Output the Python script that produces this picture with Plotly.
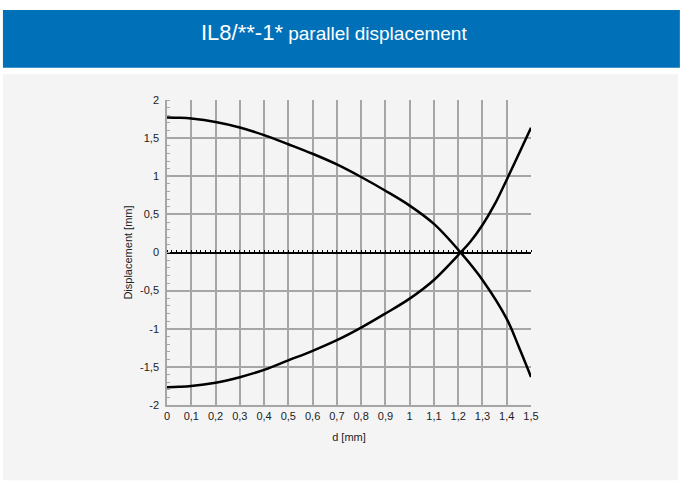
import plotly.graph_objects as go

# ---- data ----
d_upper = [0, 0.05, 0.1, 0.2, 0.3, 0.4, 0.5, 0.6, 0.7, 0.8, 0.9, 1.0, 1.1, 1.21, 1.3, 1.4, 1.45, 1.5]
disp_upper = [1.772, 1.767, 1.756, 1.712, 1.64, 1.54, 1.42, 1.295, 1.155, 0.99, 0.81, 0.615, 0.375, 0.0, -0.36, -0.87, -1.24, -1.632]
d_lower = [0, 0.05, 0.1, 0.2, 0.3, 0.4, 0.5, 0.6, 0.7, 0.8, 0.9, 1.0, 1.1, 1.21, 1.25, 1.3, 1.35, 1.4, 1.5]
disp_lower = [-1.766, -1.762, -1.752, -1.708, -1.635, -1.54, -1.415, -1.29, -1.15, -0.985, -0.8, -0.605, -0.36, 0.0, 0.14, 0.36, 0.63, 0.955, 1.635]

x_tickvals = [0, 0.1, 0.2, 0.3, 0.4, 0.5, 0.6, 0.7, 0.8, 0.9, 1.0, 1.1, 1.2, 1.3, 1.4, 1.5]
x_ticktext = ["0", "0,1", "0,2", "0,3", "0,4", "0,5", "0,6", "0,7", "0,8", "0,9", "1", "1,1", "1,2", "1,3", "1,4", "1,5"]
y_tickvals = [-2, -1.5, -1, -0.5, 0, 0.5, 1, 1.5, 2]
y_ticktext = ["-2", "-1,5", "-1", "-0,5", "0", "0,5", "1", "1,5", "2"]

W, H = 680, 488
L, R, T, B = 166.7, 531.0, 100.0, 404.7

def px(x):
    return (x - L) / (R - L)

def py(y):
    return (B - y) / (B - T)

line_style = dict(color="black", width=2.5, shape="spline", smoothing=1.0)

fig = go.Figure()
fig.add_trace(go.Scatter(x=d_upper, y=disp_upper, mode="lines", line=line_style,
                         showlegend=False, hoverinfo="skip"))
fig.add_trace(go.Scatter(x=d_lower, y=disp_lower, mode="lines", line=line_style,
                         showlegend=False, hoverinfo="skip"))
# invisible trace that activates the zero-line axis
fig.add_trace(go.Scatter(x=[0, 1.5], y=[0, 0], xaxis="x2", mode="lines",
                         line=dict(color="rgba(0,0,0,0)"), showlegend=False, hoverinfo="skip"))

FAM = "Liberation Sans, Arial, Helvetica, sans-serif"
font = dict(family=FAM, size=11, color="#222")

fig.update_layout(
    width=W, height=H,
    margin=dict(l=L, r=W - R, t=T, b=H - B, pad=0),
    paper_bgcolor="white",
    plot_bgcolor="rgba(0,0,0,0)",
    font=font,
    xaxis=dict(range=[0, 1.5], tickvals=x_tickvals, ticktext=x_ticktext,
               showgrid=True, gridcolor="#a6a6a6", gridwidth=1.5,
               showline=True, linecolor="#a6a6a6", linewidth=1.5,
               ticks="", zeroline=False, tickfont=font,
               title=dict(text="d [mm]", font=font, standoff=12)),
    yaxis=dict(range=[-2, 2], tickvals=y_tickvals, ticktext=y_ticktext,
               showgrid=True, gridcolor="#a6a6a6", gridwidth=1.5,
               showline=True, linecolor="#a6a6a6", linewidth=1.5,
               ticks="", zeroline=False, tickfont=font, ticklabelstandoff=4,
               minor=dict(dtick=0.1, ticks="inside", ticklen=3, tickcolor="#a6a6a6", showgrid=False),
               title=dict(text="Displacement [mm]", font=font, standoff=5)),
    xaxis2=dict(range=[0, 1.5], overlaying="x", anchor="free", position=0.5, side="top",
                showline=True, linecolor="black", linewidth=2,
                ticks="outside", ticklen=2, tickwidth=1, tickcolor="black", dtick=0.02, tick0=0,
                showticklabels=False, showgrid=False, zeroline=False),
    shapes=[
        dict(type="rect", xref="paper", yref="paper", layer="below",
             x0=px(2.5), x1=px(678), y0=py(480), y1=py(74.3),
             fillcolor="#f4f4f4", line=dict(width=0)),
        dict(type="rect", xref="paper", yref="paper", layer="below",
             x0=px(2.5), x1=px(680), y0=py(67.7), y1=py(10),
             fillcolor="#0071b9", line=dict(width=0)),
    ],
    annotations=[
        dict(xref="paper", yref="paper", x=px(334), y=py(33), xanchor="center", yanchor="middle",
             showarrow=False,
             text="<span style='font-size:22px'>IL8/**-1*</span> parallel displacement",
             font=dict(family=FAM, size=19, color="white")),
    ],
)

fig.write_html("out.html", config={"displayModeBar": False},
               post_script="document.body.style.margin='0';document.body.style.overflow='hidden';")
